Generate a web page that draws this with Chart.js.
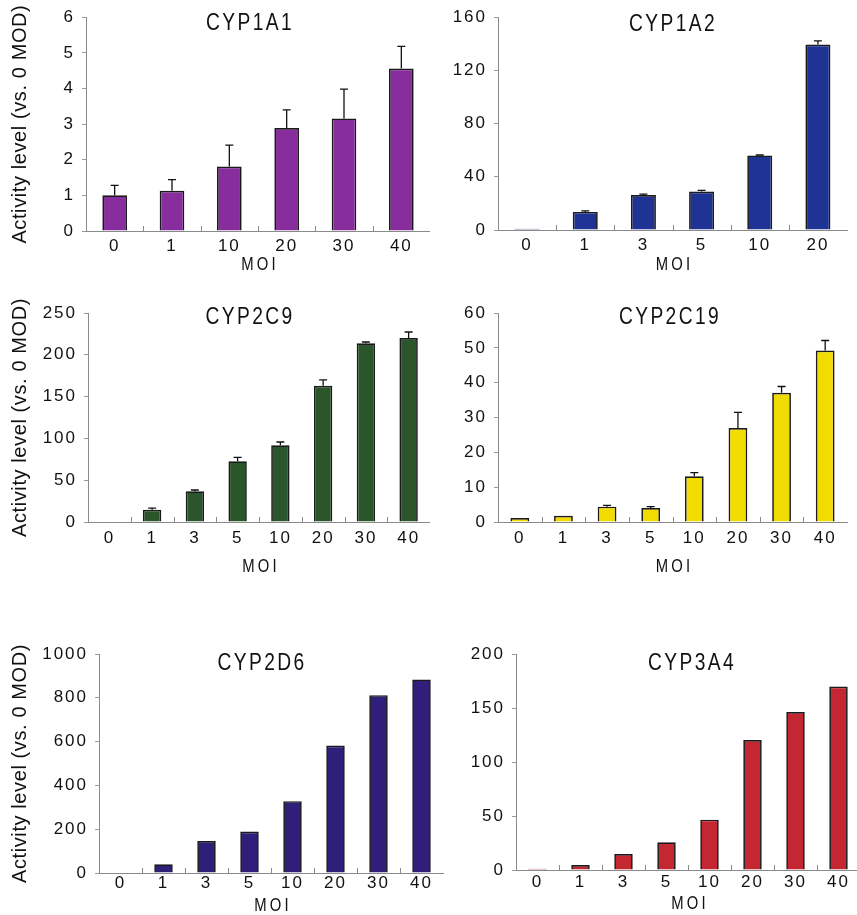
<!DOCTYPE html>
<html><head><meta charset="utf-8">
<script src="https://cdn.jsdelivr.net/npm/chart.js@4.4.0/dist/chart.umd.min.js"></script>
<style>
html,body{margin:0;padding:0;background:#fff;width:857px;height:915px;overflow:hidden;position:relative}
canvas{position:absolute}
</style></head><body>
<canvas id="c1"></canvas><canvas id="c2"></canvas><canvas id="c3"></canvas>
<canvas id="c4"></canvas><canvas id="c5"></canvas><canvas id="c6"></canvas>
<script>
// ---- data ----
const cyp1a1Labels = ['0','1','10','20','30','40'];
const cyp1a1Values = [1.0, 1.13, 1.81, 2.89, 3.16, 4.56];
const cyp1a1Errors = [0.28, 0.31, 0.6, 0.51, 0.82, 0.62];

const cyp1a2Labels = ['0','1','3','5','10','20'];
const cyp1a2Values = [1.0, 13.6, 26.3, 29.0, 56.1, 139.5];
const cyp1a2Errors = [0, 0.8, 0.7, 0.8, 0.3, 2.7];

const cyp2c9Labels = ['0','1','3','5','10','20','30','40'];
const cyp2c9Values = [0.5, 14.8, 36.7, 72.6, 91.7, 163, 213.7, 220];
const cyp2c9Errors = [0, 1.9, 1.6, 4.8, 4.0, 6.9, 1.6, 7.3];

const cyp2c19Labels = ['0','1','3','5','10','20','30','40'];
const cyp2c19Values = [1.15, 1.8, 4.4, 4.0, 13.1, 27.0, 37.1, 49.2];
const cyp2c19Errors = [0, 0, 0.4, 0.4, 1.1, 4.5, 1.8, 2.9];

const cyp2d6Labels = ['0','1','3','5','10','20','30','40'];
const cyp2d6Values = [0, 40, 146, 189, 328, 582, 812, 884];

const cyp3a4Labels = ['0','1','3','5','10','20','30','40'];
const cyp3a4Values = [1.2, 4.6, 14.8, 25.6, 46.6, 120.4, 146.3, 169.8];

const yTitleText = 'Activity level (vs. 0 MOD)';
const xTitleText = 'MOI';

// ---- drawing ----
const FONT = "'Liberation Sans',Arial,sans-serif";

const panelPlugin = {
  id: 'panel',
  beforeDraw(chart) { chart.ctx.letterSpacing = '2px'; },
  afterDatasetsDraw(chart, args, o) {
    const ctx = chart.ctx, xs = chart.scales.x, ys = chart.scales.y, ca = chart.chartArea;
    ctx.save();
    // inner tick marks between categories
    ctx.strokeStyle = '#8a8a8a'; ctx.lineWidth = 1;
    const n = xs.ticks.length, step = (xs.right - xs.left) / n;
    for (let i = 1; i < n; i++) {
      const x = Math.round(xs.left + i * step) + 0.5;
      ctx.beginPath(); ctx.moveTo(x, ys.bottom); ctx.lineTo(x, ys.bottom - 5); ctx.stroke();
    }
    // error bars
    if (o.errors) {
      ctx.strokeStyle = '#111'; ctx.lineWidth = 1.3;
      const vals = chart.data.datasets[0].data;
      chart.getDatasetMeta(0).data.forEach((bar, i) => {
        const e = o.errors[i]; if (!e) return;
        const y0 = ys.getPixelForValue(vals[i]), y1 = ys.getPixelForValue(vals[i] + e);
        ctx.beginPath();
        ctx.moveTo(bar.x, y0); ctx.lineTo(bar.x, y1);
        ctx.moveTo(bar.x - 4, y1); ctx.lineTo(bar.x + 4, y1);
        ctx.stroke();
      });
    }
    ctx.fillStyle = '#111'; ctx.textAlign = 'center'; ctx.textBaseline = 'middle';
    // panel title (narrowed)
    ctx.save();
    ctx.letterSpacing = '3px';
    ctx.font = '24px ' + FONT;
    ctx.translate(o.titleX, o.titleY); ctx.scale(0.8, 1);
    ctx.fillText(o.title, 0, 0);
    ctx.restore();
    // x title
    ctx.save();
    ctx.font = '19px ' + FONT; ctx.letterSpacing = '4px';
    ctx.translate((ca.left + ca.right) / 2 + 2, o.moiY); ctx.scale(0.78, 1);
    ctx.fillText(xTitleText, 0, 0);
    ctx.restore();
    // y title
    if (o.yTitle) {
      ctx.letterSpacing = '0.6px';
      ctx.font = '20px ' + FONT;
      ctx.translate(o.yTitleX, (ca.top + ca.bottom) / 2);
      ctx.rotate(-Math.PI / 2);
      ctx.fillText(yTitleText, 0, 0);
    }
    ctx.restore();
  }
};

function makePanel(p) {
  const [rx, ry, rw, rh] = p.rect;
  const [pl, pt, pr, pb] = p.plot;
  const cv = document.getElementById(p.id);
  cv.width = rw; cv.height = rh;
  cv.style.left = rx + 'px'; cv.style.top = ry + 'px';
  cv.style.width = rw + 'px'; cv.style.height = rh + 'px';
  new Chart(cv, {
    type: 'bar',
    data: {
      labels: p.labels,
      datasets: [{
        data: p.values,
        backgroundColor: p.color,
        borderColor: '#1a1a1a',
        borderWidth: 1.7,
        borderSkipped: 'bottom',
        barPercentage: 0.43,
        categoryPercentage: 1.0
      }]
    },
    options: {
      responsive: false,
      animation: false,
      devicePixelRatio: 1,
      layout: { padding: { top: pt - ry, right: rx + rw - pr, left: 0, bottom: 0 } },
      plugins: {
        legend: { display: false }, tooltip: { enabled: false }, title: { display: false },
        panel: {
          title: p.title, titleX: p.titleX - rx, titleY: p.titleY - ry,
          moiY: p.moiY - ry, yTitle: p.yTitle, yTitleX: 20,
          errors: p.errors || null
        }
      },
      scales: {
        x: {
          grid: { display: false, drawTicks: false },
          border: { display: true, color: '#8a8a8a', width: 1 },
          ticks: { color: '#111', font: { size: 17, family: FONT }, padding: p.tickPad, maxRotation: 0, autoSkip: false },
          afterFit(s) { s.height = ry + rh - pb; }
        },
        y: {
          min: 0, max: p.max,
          grid: { drawOnChartArea: false, drawTicks: true, tickLength: 4, color: '#9a9a9a' },
          border: { display: true, color: '#8a8a8a', width: 1 },
          ticks: { stepSize: p.step, color: '#111', font: { size: 17, family: FONT }, padding: 7,
                   callback: v => String(v) },
          afterFit(s) { s.width = pl - rx; }
        }
      }
    },
    plugins: [panelPlugin]
  });
}

const panels = [
  { id: 'c1', rect: [0, 0, 430, 285], plot: [86, 15, 430, 231], title: 'CYP1A1', titleX: 250, titleY: 23,
    labels: cyp1a1Labels, values: cyp1a1Values, errors: cyp1a1Errors, color: '#872d9e', max: 6, step: 1,
    yTitle: true, moiY: 265, tickPad: 5 },
  { id: 'c2', rect: [430, 0, 427, 285], plot: [498, 15, 847, 230], title: 'CYP1A2', titleX: 673, titleY: 24,
    labels: cyp1a2Labels, values: cyp1a2Values, errors: cyp1a2Errors, color: '#1f3395', max: 160, step: 40,
    yTitle: false, moiY: 265, tickPad: 5 },
  { id: 'c3', rect: [0, 290, 430, 300], plot: [88, 313, 430, 522], title: 'CYP2C9', titleX: 250, titleY: 317,
    labels: cyp2c9Labels, values: cyp2c9Values, errors: cyp2c9Errors, color: '#2b552b', max: 250, step: 50,
    yTitle: true, moiY: 567, tickPad: 6 },
  { id: 'c4', rect: [430, 290, 427, 300], plot: [498, 313, 847, 522], title: 'CYP2C19', titleX: 670, titleY: 317,
    labels: cyp2c19Labels, values: cyp2c19Values, errors: cyp2c19Errors, color: '#f2dc00', max: 60, step: 10,
    yTitle: false, moiY: 567, tickPad: 6 },
  { id: 'c5', rect: [0, 630, 450, 285], plot: [99, 654, 443, 873], title: 'CYP2D6', titleX: 262, titleY: 663,
    labels: cyp2d6Labels, values: cyp2d6Values, errors: null, color: '#2f1f7a', max: 1000, step: 200,
    yTitle: true, moiY: 906, tickPad: 0 },
  { id: 'c6', rect: [430, 630, 432, 285], plot: [516, 654, 860, 870], title: 'CYP3A4', titleX: 692, titleY: 663,
    labels: cyp3a4Labels, values: cyp3a4Values, errors: null, color: '#c42632', max: 200, step: 50,
    yTitle: false, moiY: 904, tickPad: 2 }
];
panels.forEach(makePanel);
</script>
</body></html>
